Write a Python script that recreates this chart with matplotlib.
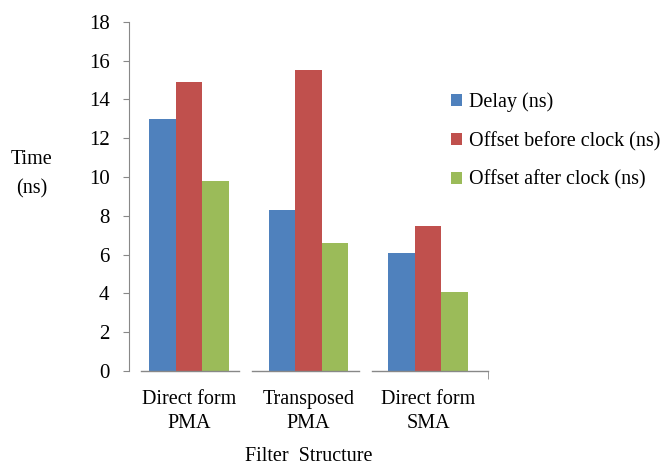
import numpy as np
import matplotlib.pyplot as plt

plt.rcParams['font.family'] = ['Liberation Serif', 'DejaVu Serif']

# Data
categories = ['Direct form\nPMA', 'Transposed\nPMA', 'Direct form\nSMA']
delay = [13.0, 8.3, 6.1]
offset_before = [14.9, 15.5, 7.45]
offset_after = [9.8, 6.6, 4.05]
series_names = ['Delay (ns)', 'Offset before clock (ns)', 'Offset after clock (ns)']
colors = ['#4F81BD', '#C0504D', '#9BBB59']

fig = plt.figure(figsize=(6.66, 4.68), dpi=100)
ax = fig.add_axes([0.1937, 0.2073, 0.539, 0.7463])

x = np.arange(len(categories)) + 0.5
w = 0.222
for i, (vals, name, col) in enumerate(zip([delay, offset_before, offset_after], series_names, colors)):
    ax.bar(x + (i - 1) * w, vals, width=w, color=col, label=name)

ax.set_xlim(0, 3)
ax.set_ylim(0, 18)
ax.set_yticks(np.arange(0, 19, 2))
ax.tick_params(axis='y', labelsize=15, length=4, color='#888888', pad=10)

# category labels centred, one tick at the right end
ax.set_xticks(x)
ax.set_xticklabels(categories, fontsize=14.5, linespacing=1.35)
ax.tick_params(axis='x', length=0, pad=14)
ax.set_xticks([3], minor=True)
ax.tick_params(axis='x', which='minor', length=6, color='#888888')

for s in ['top', 'right', 'bottom']:
    ax.spines[s].set_visible(False)
ax.spines['left'].set_color('#888888')

# the category axis is drawn in broken pieces, one under each group
for a, b in [(0.1, 0.92), (1.03, 1.92), (2.03, 3.0)]:
    ax.plot([a, b], [0, 0], color='#888888', lw=1.0, clip_on=False,
            transform=ax.get_xaxis_transform())

ax.set_xlabel('Filter  Structure', fontsize=14.5, labelpad=10)
fig.text(0.0476, 0.628, 'Time\n(ns)', fontsize=14.5, ha='center', va='center', linespacing=1.75)

fig.legend(loc='upper left', bbox_to_anchor=(0.665, 0.82), frameon=False, fontsize=14.5,
           handlelength=0.55, handleheight=0.55, handletextpad=0.35, labelspacing=0.97,
           borderaxespad=0)

fig.savefig('out.png', dpi=100)
